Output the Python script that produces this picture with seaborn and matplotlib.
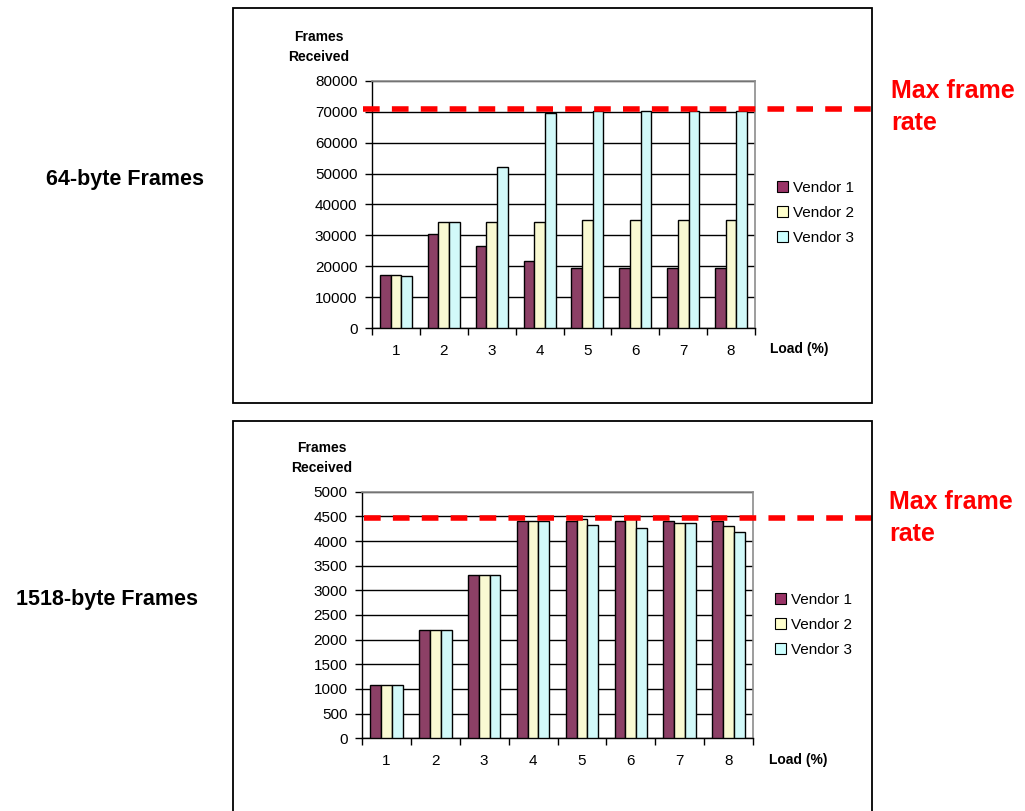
import numpy as np
import pandas as pd
import matplotlib
matplotlib.use("Agg")
import matplotlib.pyplot as plt
from matplotlib.patches import Patch, Rectangle
import seaborn as sns

# ---- data -------------------------------------------------------------
loads = ["1", "2", "3", "4", "5", "6", "7", "8"]
vendors = ["Vendor 1", "Vendor 2", "Vendor 3"]

# 64-byte frames received per load step
small_v1 = [17300, 30400, 26600, 21900, 19600, 19600, 19600, 19600]
small_v2 = [17300, 34500, 34500, 34500, 34950, 34950, 34950, 34950]
small_v3 = [16900, 34500, 52000, 69700, 70300, 70300, 70300, 70300]
small_max_rate = 71000
small_yticks = list(range(0, 80001, 10000))

# 1518-byte frames received per load step
large_v1 = [1080, 2190, 3320, 4400, 4400, 4400, 4400, 4400]
large_v2 = [1080, 2190, 3320, 4400, 4450, 4470, 4360, 4300]
large_v3 = [1080, 2190, 3320, 4400, 4330, 4260, 4360, 4190]
large_max_rate = 4460
large_yticks = list(range(0, 5001, 500))

colors = ["#993366", "#FFFFCC", "#CCFFFF"]

# ---- figure -----------------------------------------------------------
W, H = 1025, 811
plt.rcParams["font.family"] = ["Liberation Sans", "DejaVu Sans"]
fig = plt.figure(figsize=(W / 100, H / 100), dpi=100)
fig.patch.set_facecolor("white")


def fx(x):
    return x / W


def fy(y):
    return 1 - y / H


def make_frame(series, vendor_names):
    rows = []
    for name, vals in zip(vendor_names, series):
        for load, v in zip(loads, vals):
            rows.append({"load": load, "frames": v, "vendor": name})
    return pd.DataFrame(rows)


def panel(box, frame_px, data, yticks, max_rate, line_px, title, title_xy,
          ylab_xy, legend_xy, load_xy, maxlab_xy):
    left, top, right, bottom = box
    ax = fig.add_axes([fx(left), fy(bottom), (right - left) / W, (bottom - top) / H])
    ax.set_facecolor("white")

    sns.barplot(data=data, x="load", y="frames", hue="vendor", order=loads,
                hue_order=vendors, palette=colors, edgecolor="black",
                linewidth=1.0, width=0.667, errorbar=None, legend=False,
                ax=ax, zorder=3)

    ax.set_xlim(-0.5, len(loads) - 0.5)
    ax.set_ylim(yticks[0], yticks[-1])
    ax.set_yticks(yticks)
    ax.set_yticklabels([str(t) for t in yticks])
    ax.set_xlabel("")
    ax.set_ylabel("")
    ax.yaxis.grid(True, color="black", linewidth=1.0, zorder=0)
    ax.set_axisbelow(True)

    ax.set_xticks(np.arange(-0.5, len(loads), 1.0), minor=True)
    ax.tick_params(axis="x", which="major", length=0, pad=11, labelsize=11)
    ax.tick_params(axis="x", which="minor", length=5, width=1, direction="out")
    ax.tick_params(axis="y", which="major", length=5, width=1, direction="out",
                   pad=5.5, labelsize=11)

    for side in ("left", "bottom"):
        ax.spines[side].set_color("black")
        ax.spines[side].set_linewidth(1.0)
    for side in ("top", "right"):
        ax.spines[side].set_color("#8c8c8c")
        ax.spines[side].set_linewidth(1.2)

    # maximum theoretical frame rate, running past the plot area
    x0, x1 = line_px
    ax.axhline(max_rate, xmin=(x0 - left) / (right - left),
               xmax=(x1 - left) / (right - left), clip_on=False,
               color="#FF0000", linewidth=4, linestyle=(0, (3, 2.2)),
               solid_capstyle="butt", dash_capstyle="butt", zorder=6)

    handles = [Patch(facecolor=c, edgecolor="black", linewidth=0.8) for c in colors]
    ax.legend(handles, vendors, loc="upper left",
              bbox_to_anchor=(fx(legend_xy[0]), fy(legend_xy[1])),
              bbox_transform=fig.transFigure, frameon=False, fontsize=11,
              handlelength=0.72, handleheight=0.72, handletextpad=0.3,
              labelspacing=0.72, borderpad=0, borderaxespad=0)

    # outer chart frame
    fl, ft, fr, fb = frame_px
    fig.patches.append(Rectangle((fx(fl), fy(fb)), (fr - fl) / W, (fb - ft) / H,
                                 transform=fig.transFigure, fill=False,
                                 edgecolor="black", linewidth=1.3, zorder=0))

    fig.text(fx(ylab_xy[0]), fy(ylab_xy[1]), "Frames\nReceived", ha="center",
             va="center", fontsize=10, fontweight="bold", linespacing=1.5)
    fig.text(fx(load_xy[0]), fy(load_xy[1]), "Load (%)", ha="left", va="center",
             fontsize=10, fontweight="bold")
    fig.text(fx(title_xy[0]), fy(title_xy[1]), title, ha="center", va="center",
             fontsize=15.5, fontweight="bold")
    fig.text(fx(maxlab_xy[0]), fy(maxlab_xy[1]), "Max frame\nrate", ha="left",
             va="center", fontsize=18, fontweight="bold", color="#FF0000",
             linespacing=1.45)
    return ax


small_df = make_frame([small_v1, small_v2, small_v3], vendors)
large_df = make_frame([large_v1, large_v2, large_v3], vendors)

panel(box=(372, 80.7, 755, 328.3), frame_px=(233, 8.5, 872, 403),
      data=small_df, yticks=small_yticks, max_rate=small_max_rate,
      line_px=(363, 877), title="64-byte Frames", title_xy=(125, 179),
      ylab_xy=(319, 47), legend_xy=(777, 181), load_xy=(770, 349),
      maxlab_xy=(891, 107))

panel(box=(362, 491.7, 753, 738.3), frame_px=(233, 420.7, 872, 830),
      data=large_df, yticks=large_yticks, max_rate=large_max_rate,
      line_px=(364, 877), title="1518-byte Frames", title_xy=(107, 600),
      ylab_xy=(322, 458), legend_xy=(775, 593), load_xy=(769, 760),
      maxlab_xy=(889, 518))

fig.savefig("out.png", dpi=100, facecolor="white")
